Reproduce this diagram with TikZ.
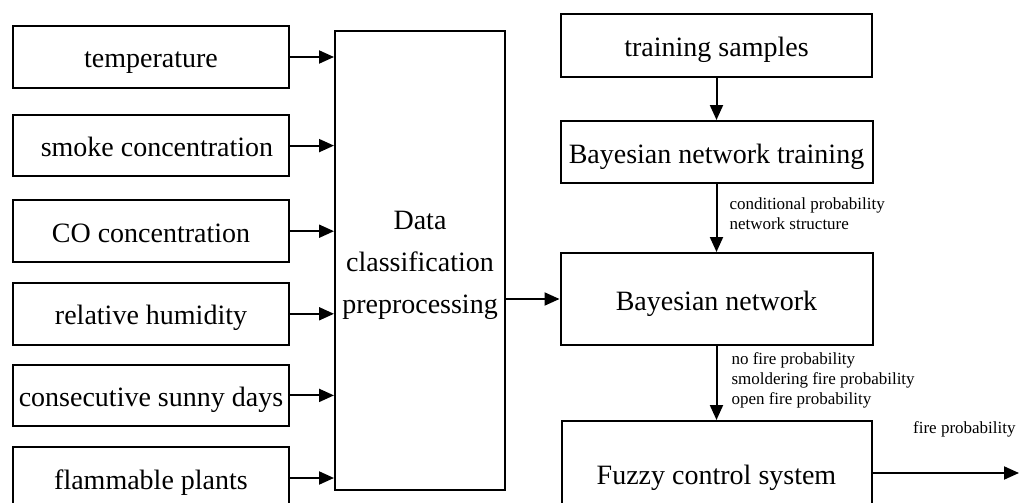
\documentclass[tikz,border=0pt]{standalone}
\usepackage{fontspec}
\setmainfont{Liberation Serif}
\usetikzlibrary{arrows.meta,positioning}

\begin{document}
\begin{tikzpicture}[
  node distance=10pt and 20pt,
  every node/.style={font=\fontsize{14}{21}\selectfont},
  frame/.style={draw, line width=1pt, inner sep=0pt, minimum height=31pt},
  box/.style={frame, text height=11pt, text depth=0pt},
  inbox/.style={box, minimum width=138pt, minimum height=30.8pt},
  lbl/.style={font=\fontsize{8.5}{10}\selectfont, align=left, inner sep=0pt},
  arr/.style={-{Triangle[length=7.5pt, width=6.5pt]}, line width=1pt}
]
  \useasboundingbox (0,0) rectangle (509.5pt,-251.5pt);
  \clip (0,0) rectangle (509.5pt,-251.5pt);

  % inputs
  \node[inbox] (temp) at (75.5pt,-28.5pt) {temperature};
  \node[inbox, below=12.5pt of temp] (smoke) {\hspace{6pt}smoke concentration};
  \node[inbox, below=11pt of smoke] (co) {CO concentration};
  \node[inbox, below=9.5pt of co] (hum) {relative humidity};
  \node[inbox, below=9pt of hum] (sunny) {consecutive sunny days};
  \node[inbox, below=9.5pt of sunny] (plants) {flammable plants};

  \node[frame, minimum width=85pt, minimum height=229.5pt, text height=56.3pt, align=center]
    (data) at (210pt,-130.25pt) {Data\\classification\\preprocessing};

  % right column
  \node[box, minimum width=155.5pt, minimum height=31.5pt] (train) at (358.25pt,-22.75pt) {training samples};
  \node[box, minimum width=156pt, below=21pt of train] (bnt) {Bayesian network training};
  \node[box, minimum width=156pt, minimum height=46pt, below=34pt of bnt] (bn) {Bayesian network};
  \node[box, minimum width=155pt, minimum height=52pt, below=37pt of bn] (fuzzy) {Fuzzy control system};

  \coordinate (edge) at (509.5pt,0);
  \coordinate (out) at (fuzzy.east -| edge);
  \node[lbl, anchor=east] (firelbl) at ([xshift=-1.5pt, yshift=22pt]out) {fire probability};

  \draw[arr] (temp) -- (temp -| data.west);
  \draw[arr] (smoke) -- (smoke -| data.west);
  \draw[arr] (co) -- (co -| data.west);
  \draw[arr] (hum) -- (hum -| data.west);
  \draw[arr] (sunny) -- (sunny -| data.west);
  \draw[arr] (plants) -- (plants -| data.west);
  \draw[arr] (bn.west -| data.east) -- (bn.west);
  \draw[arr] (train) -- (bnt);
  \draw[arr] (bnt) -- node[lbl, midway, right=6pt, yshift=2pt] {conditional probability\\network structure} (bn);
  \draw[arr] (bn) -- node[lbl, midway, right=7pt, yshift=1.5pt] {no fire probability\\smoldering fire probability\\open fire probability} (fuzzy);
  \draw[arr] (fuzzy.east) -- (out);
\end{tikzpicture}
\end{document}
